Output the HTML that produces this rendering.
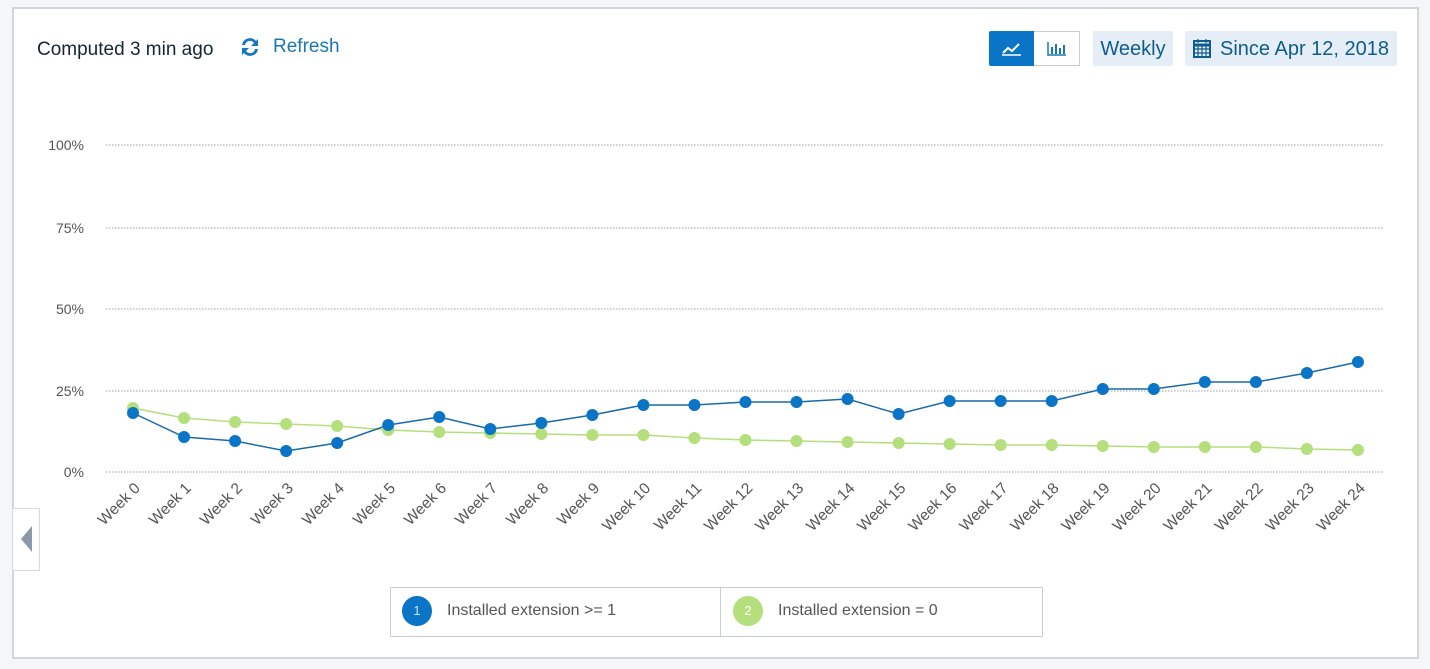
<!DOCTYPE html>
<html><head><meta charset="utf-8"><style>
body{margin:0;width:1430px;height:669px;background:#f5f6f7;font-family:"Liberation Sans",sans-serif;overflow:hidden;position:relative}
.panel{position:absolute;left:12px;top:7px;width:1407px;height:652px;background:#fff;border:2px solid #cfd6dc;box-sizing:border-box}
.t{position:absolute;white-space:nowrap}
.btn{position:absolute;background:#e5eef6;color:#0f5c8c;font-size:20px;height:35px;line-height:37px;border-radius:2px}
</style></head><body>
<div class="panel"></div>
<div class="t" style="left:37px;top:39px;font-size:19px;color:#16262f">Computed 3 min ago</div>
<svg class="t" style="left:238px;top:35px" width="24" height="24" viewBox="0 0 24 24"><path d="M4 10a8 8 0 0 1 14-4l2-2v7h-7l3-3a5 5 0 0 0-9 2z M20 14a8 8 0 0 1-14 4l-2 2v-7h7l-3 3a5 5 0 0 0 9-2z" fill="#1577c0"/></svg>
<div class="t" style="left:273px;top:36px;font-size:19px;color:#1a78b0">Refresh</div>
<div class="t" style="left:989px;top:31px;width:45px;height:35px;background:#0a74c6;border-radius:2px 0 0 2px"></div>
<svg class="t" style="left:1000px;top:38px" width="24" height="20"><polyline points="3,15 8,10 12,13 19,6" fill="none" stroke="#fff" stroke-width="2"/><line x1="2" y1="17" x2="21" y2="17" stroke="#fff" stroke-width="1.5"/></svg>
<div class="t" style="left:1034px;top:31px;width:45px;height:33px;border:1px solid #c8cdd2;border-left:none;background:#fff"></div>
<svg class="t" style="left:1045px;top:38px" width="24" height="20"><path d="M3 4v13h18" fill="none" stroke="#1a78b0" stroke-width="1.5"/><rect x="6" y="9" width="2" height="7" fill="#1a78b0"/><rect x="10" y="6" width="2" height="10" fill="#1a78b0"/><rect x="14" y="10" width="2" height="6" fill="#1a78b0"/><rect x="18" y="7" width="2" height="9" fill="#1a78b0"/></svg>
<div class="btn" style="left:1093px;top:31px;width:80px;text-align:center">Weekly</div>
<div class="btn" style="left:1185px;top:31px;width:212px"><span style="margin-left:35px">Since Apr 12, 2018</span></div>
<svg class="t" style="left:1192px;top:37px" width="20" height="22"><rect x="2" y="4" width="16" height="16" fill="none" stroke="#0f5c8c" stroke-width="2"/><line x1="2" y1="8" x2="18" y2="8" stroke="#0f5c8c" stroke-width="3"/><path d="M6 2v4M14 2v4M2 12h16M2 16h16M6 8v12M10 8v12M14 8v12" stroke="#0f5c8c" stroke-width="1.2"/></svg>
<div class="t" style="left:12px;top:508px;width:26px;height:61px;border:1px solid #d5dadf;background:#fff"></div>
<svg class="t" style="left:20px;top:524px" width="14" height="30"><polygon points="12,2 12,28 1,15" fill="#8a9aab"/></svg>
<svg class="t" style="left:0;top:0" width="1430" height="669" font-family="Liberation Sans, sans-serif">
<g stroke="#9aa0a6" stroke-dasharray="1.5,1.5" stroke-width="1">
<line x1="106" y1="145" x2="1384" y2="145"/><line x1="106" y1="228" x2="1384" y2="228"/><line x1="106" y1="309" x2="1384" y2="309"/><line x1="106" y1="391" x2="1384" y2="391"/><line x1="106" y1="472" x2="1384" y2="472"/></g>
<g font-size="14" fill="#555" text-anchor="end">
<text x="84" y="150">100%</text><text x="84" y="233">75%</text><text x="84" y="314">50%</text><text x="84" y="396">25%</text><text x="84" y="477">0%</text></g>
<g id="lab" font-size="15.5" fill="#555" text-anchor="end"></g>
<polyline id="g" fill="none" stroke="#b5df7c" stroke-width="1.5"/>
<polyline id="b" fill="none" stroke="#1a6aa8" stroke-width="1.5"/>
<g id="gd" fill="#b5df7c"></g><g id="bd" fill="#0a74c6"></g>
</svg>
<div class="t" style="left:390px;top:587px;width:651px;height:48px;border:1px solid #c8cdd2;background:#fff"></div>
<div class="t" style="left:720px;top:588px;width:1px;height:48px;background:#c8cdd2"></div>
<div class="t" style="left:402px;top:596px;width:30px;height:30px;border-radius:50%;background:#0a74c6;color:#cfe6f8;font-size:13px;text-align:center;line-height:30px">1</div>
<div class="t" style="left:447px;top:602px;font-size:16px;color:#555">Installed extension &gt;= 1</div>
<div class="t" style="left:733px;top:596px;width:30px;height:30px;border-radius:50%;background:#b5df7c;color:#fff;font-size:13px;text-align:center;line-height:30px">2</div>
<div class="t" style="left:778px;top:602px;font-size:16px;color:#555">Installed extension = 0</div>
<script>
var B=[413,437,441,451,443,425,417,429,423,415,405,405,402,402,399,414,401,401,401,389,389,382,382,373,362];
var G=[408,418,422,424,426,430,432,433,434,435,435,438,440,441,442,443,444,445,445,446,447,447,447,449,450];
var ns="http://www.w3.org/2000/svg",bp="",gp="",lab=document.getElementById("lab");
for(var i=0;i<25;i++){var x=133+i*51.04;bp+=x+","+B[i]+" ";gp+=x+","+G[i]+" ";
[["gd",G[i]],["bd",B[i]]].forEach(function(a){var c=document.createElementNS(ns,"circle");c.setAttribute("cx",x);c.setAttribute("cy",a[1]);c.setAttribute("r",6);document.getElementById(a[0]).appendChild(c);});
var t=document.createElementNS(ns,"text");t.setAttribute("transform","translate("+(x+8)+",489) rotate(-45)");t.textContent="Week "+i;lab.appendChild(t);}
document.getElementById("b").setAttribute("points",bp);document.getElementById("g").setAttribute("points",gp);
</script>
</body></html>
